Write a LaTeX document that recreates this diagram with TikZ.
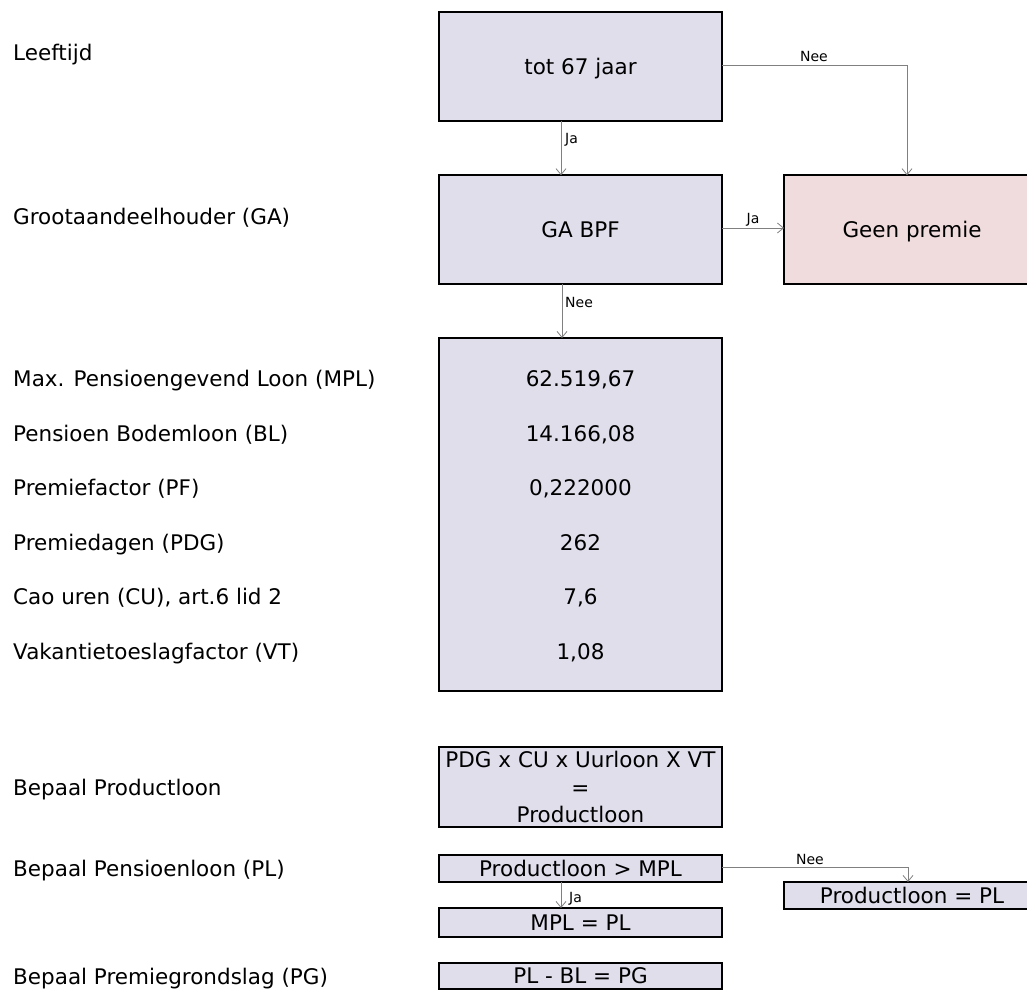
\documentclass[tikz,border=0pt]{standalone}
\usepackage{fontspec}
\setmainfont{DejaVu Sans}
\usetikzlibrary{arrows.meta}
\definecolor{lav}{HTML}{E1DEEC}
\definecolor{pinkbox}{HTML}{F0DCDC}
\definecolor{conngray}{HTML}{808080}
\tikzset{
  bigfont/.style={font=\fontsize{21.5}{26}\selectfont},
  box/.style={draw=black, line width=1.8pt, fill=lav, inner sep=0pt, outer sep=0pt,
    align=center, bigfont, text height=15.7pt, text depth=0pt},
  lowbox/.style={box, line width=1.3pt},
  lbl/.style={anchor=base west, inner sep=0pt, bigfont},
  val/.style={anchor=base, inner sep=0pt, bigfont},
  small/.style={font=\fontsize{14}{16}\selectfont, inner sep=0pt},
  arr/.style={draw=conngray, line width=0.9pt,
    -{Straight Barb[length=6pt,width=10pt,line width=0.8pt]}},
}
\begin{document}
\begin{tikzpicture}[x=1pt,y=-1pt]
\useasboundingbox (0,0) rectangle (1027,990);
\clip (0,0) rectangle (1027,990);

% left labels
\node[lbl] (l1) at (13,60.8) {Leeftijd};
\node[lbl] (l2) at (13,224.8) {Grootaandeelhouder (GA)};
\node[lbl] (l3) at (13,386.8) {Max. Pensioengevend Loon (MPL)};
\node[lbl] (l4) at (13,441.3) {Pensioen Bodemloon (BL)};
\node[lbl] (l5) at (13,495.8) {Premiefactor (PF)};
\node[lbl] (l6) at (13,550.3) {Premiedagen (PDG)};
\node[lbl] (l7) at (13,604.8) {Cao uren (CU), art.6 lid 2};
\node[lbl] (l8) at (13,659.3) {Vakantietoeslagfactor (VT)};
\node[lbl] (l9) at (13,795.3) {Bepaal Productloon};
\node[lbl] (l10) at (13,876.5) {Bepaal Pensioenloon (PL)};
\node[lbl] (l11) at (13,984.8) {Bepaal Premiegrondslag (PG)};

% top boxes
\node[box, minimum width=283pt, minimum height=108.5pt] (box1) at (580.5,66.5) {tot 67 jaar};
\node[box, minimum width=283pt, minimum height=108.5pt] (box2) at (580.5,229.5) {GA BPF};
\node[box, fill=pinkbox, minimum width=256pt, minimum height=108.5pt] (geen) at (912,229.5) {Geen premie};

% big value box
\node[box, minimum width=283pt, minimum height=353pt] (big) at (580.5,514.5) {};
\node[val] (v1) at (580.5,386.8) {62.519,67};
\node[val] (v2) at (580.5,441.3) {14.166,08};
\node[val] (v3) at (580.5,495.8) {0,222000};
\node[val] (v4) at (580.5,550.3) {262};
\node[val] (v5) at (580.5,604.8) {7,6};
\node[val] (v6) at (580.5,659.3) {1,08};

% lower boxes
\node[lowbox, minimum width=283pt, minimum height=80pt, text height=, text depth=,
  font=\fontsize{21.5}{27.5}\selectfont] (pdg) at (580.5,787) {PDG x CU x Uurloon X VT\\=\\Productloon};
\node[lowbox, minimum width=283pt, minimum height=27pt] (gt) at (580.5,868.5) {Productloon > MPL};
\node[lowbox, minimum width=283pt, minimum height=29pt] (mplpl) at (580.5,922.5) {MPL = PL};
\node[lowbox, minimum width=283pt, minimum height=26pt] (pg) at (580.5,976) {PL - BL = PG};
\node[lowbox, minimum width=256pt, minimum height=27pt] (ppl) at (912,895.5) {Productloon = PL};

% helper coordinates
\coordinate (xa) at (561,0);
\coordinate (xb) at (562,0);
\coordinate (xc) at (907,0);
\coordinate (xd) at (908,0);
\coordinate (ya) at (0,65);
\coordinate (yb) at (0,228);
\coordinate (yc) at (0,867);

% connectors
\draw[arr] (box1.south -| xa) -- (box2.north -| xa);
\draw[arr] (box1.east |- ya) -| (geen.north -| xc);
\draw[arr] (box2.east |- yb) -- (geen.west |- yb);
\draw[arr] (box2.south -| xb) -- (big.north -| xb);
\draw[arr] (gt.south -| xa) -- (mplpl.north -| xa);
\draw[arr] (gt.east |- yc) -| (ppl.north -| xd);

% connector labels
\node[small, anchor=base west] (t1) at (565,143) {Ja};
\node[small, anchor=base] (t2) at (814,61) {Nee};
\node[small, anchor=base] (t3) at (753,223) {Ja};
\node[small, anchor=base west] (t4) at (565,307) {Nee};
\node[small, anchor=base west] (t5) at (569,902) {Ja};
\node[small, anchor=base] (t6) at (810,864) {Nee};
\end{tikzpicture}
\end{document}
